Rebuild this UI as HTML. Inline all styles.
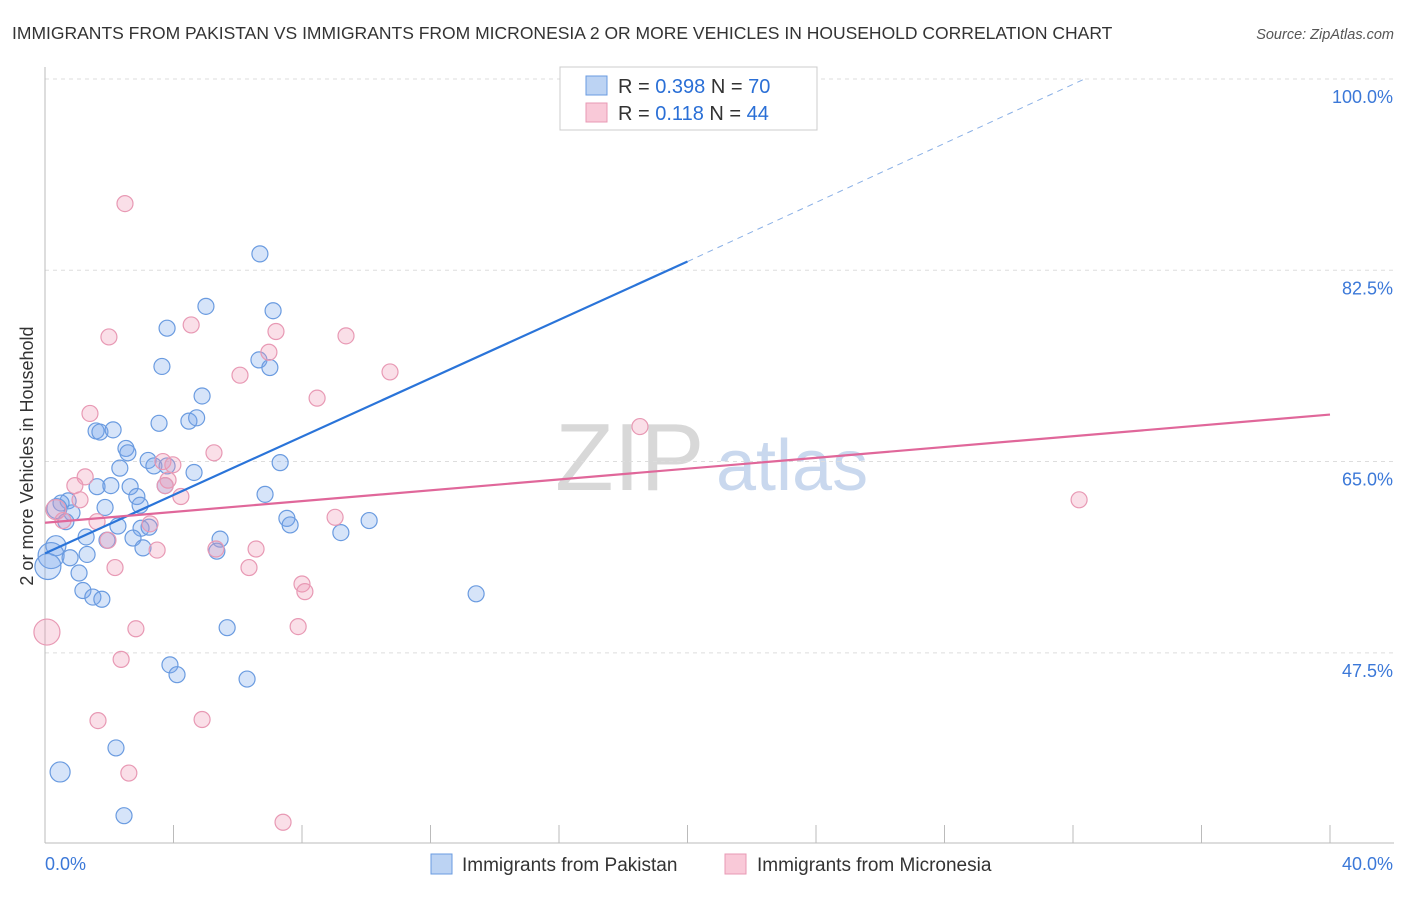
<!DOCTYPE html>
<html><head><meta charset="utf-8"><style>
body{margin:0;background:#fff;font-family:"Liberation Sans",sans-serif;}
svg text{font-family:"Liberation Sans",sans-serif;}
</style></head><body>
<svg id="chart" width="1406" height="892" xmlns="http://www.w3.org/2000/svg">
<text x="12" y="39" font-size="17.5" fill="#333">IMMIGRANTS FROM PAKISTAN VS IMMIGRANTS FROM MICRONESIA 2 OR MORE VEHICLES IN HOUSEHOLD CORRELATION CHART</text>
<text x="1394" y="39" font-size="14.5" fill="#555" font-style="italic" text-anchor="end">Source: ZipAtlas.com</text>
<g>
<text x="555" y="490" font-size="96" font-family="Liberation Serif,serif" fill="#d8d8d8">ZIP</text>
<text x="716" y="490" font-size="72" fill="#c9d8ee">atlas</text>
</g>
<g id="grid"></g>
<g id="axes"></g>
<g id="marks"></g>
<g id="lines"></g>
<text transform="translate(33,456) rotate(-90)" font-size="18" fill="#333" text-anchor="middle">2 or more Vehicles in Household</text>
<g>
<rect x="560" y="67" width="257" height="63" fill="#fff" stroke="#ccc"/>
<rect x="586" y="76" width="21" height="19" fill="#bcd3f3" stroke="#6a9be0"/>
<rect x="586" y="103" width="21" height="19" fill="#f9c9d8" stroke="#e899b4"/>
<text x="618" y="93" font-size="20" fill="#333">R = <tspan fill="#2a6fd6">0.398</tspan>   N = <tspan fill="#2a6fd6">70</tspan></text>
<text x="618" y="120" font-size="20" fill="#333">R =  <tspan fill="#2a6fd6"> 0.118</tspan>   N = <tspan fill="#2a6fd6">44</tspan></text>
</g>
<g>
<rect x="431" y="854" width="21" height="20" fill="#bcd3f3" stroke="#6a9be0"/>
<text x="462" y="871" font-size="19" fill="#333">Immigrants from Pakistan</text>
<rect x="725" y="854" width="21" height="20" fill="#f9c9d8" stroke="#e899b4"/>
<text x="757" y="871" font-size="19" fill="#333">Immigrants from Micronesia</text>
</g>
</svg>
<script>
const xTicks=[0,4,8,12,16,20,24,28,32,36,40];
const yTicks=[100,82.5,65,47.5];
const yTickLabels=["100.0%","82.5%","65.0%","47.5%"];
const xEndLabels=["0.0%","40.0%"];
const pakX=[16.37,6.69,5.01,3.80,7.10,3.64,6.66,7.00,4.89,3.55,4.48,4.72,1.59,1.71,2.12,2.52,2.58,3.21,3.39,3.80,2.33,4.64,7.32,1.62,2.05,2.65,3.74,6.85,2.86,0.72,0.50,1.87,2.96,0.37,0.84,0.65,7.53,7.63,10.09,2.27,2.99,3.24,1.28,2.74,1.93,5.45,9.21,0.34,3.05,5.35,1.31,0.19,0.78,0.09,1.06,1.18,1.49,1.77,13.42,5.67,3.89,4.11,6.29,2.21,0.47,2.46];
const pakY=[100,84.0,79.2,77.2,78.8,73.7,74.3,73.6,71.0,68.5,68.7,69.0,67.8,67.7,67.9,66.2,65.8,65.1,64.6,64.6,64.4,64.0,64.9,62.7,62.8,62.7,62.8,62.0,61.8,61.4,61.2,60.8,61.0,60.7,60.3,59.5,59.8,59.2,59.6,59.1,58.9,59.0,58.1,58.0,57.8,57.9,58.5,57.3,57.1,56.8,56.5,56.4,56.2,55.4,54.8,53.2,52.6,52.4,52.9,49.8,46.4,45.5,45.1,38.8,36.6,32.6];
const micX=[2.49,1.99,4.55,7.19,9.37,6.97,6.07,10.74,8.47,1.40,18.52,5.26,3.67,3.98,1.25,3.83,0.93,3.74,4.23,1.09,32.19,0.34,9.03,0.56,1.62,3.27,1.96,3.49,5.32,6.57,2.18,6.35,8.00,8.09,0.06,2.83,7.88,2.37,1.65,4.89,2.61,7.41];
const micY=[88.6,76.4,77.5,76.9,76.5,75.0,72.9,73.2,70.8,69.4,68.2,65.8,65.0,64.7,63.6,63.3,62.8,62.8,61.8,61.5,61.5,60.6,59.9,59.6,59.5,59.3,57.8,56.9,57.0,57.0,55.3,55.3,53.8,53.1,49.4,49.7,49.9,46.9,41.3,41.4,36.5,32.0];
const pakLine=[[0,56.6],[20,83.3]];
const pakDash=[[20,83.3],[32.36,100]];
const micLine=[[0,59.4],[40,69.3]];
const NS="http://www.w3.org/2000/svg";
const xs=v=>45+v/40*1285;
const ys=v=>79+(100-v)*10.93;
function mk(tag,attrs,parent){const e=document.createElementNS(NS,tag);for(const k in attrs)e.setAttribute(k,attrs[k]);document.getElementById(parent).appendChild(e);return e;}
yTicks.forEach((t,i)=>{
 const g=mk('line',{x1:45,x2:1394,y1:ys(t),y2:ys(t),stroke:'#ddd','stroke-dasharray':'4,4'},'grid');
 
 
 const l=mk('text',{x:1393,y:ys(t)+24,'font-size':18,fill:'#3b78d8','text-anchor':'end'},'axes');
 l.textContent=yTickLabels[i];
 
 
});
const ax=mk('line',{x1:45,x2:45,y1:67,y2:843,stroke:'#bbb'},'axes');


const bx=mk('line',{x1:45,x2:1394,y1:843,y2:843,stroke:'#bbb'},'axes');


xTicks.forEach(t=>{
 const tk=mk('line',{x1:xs(t),x2:xs(t),y1:825,y2:843,stroke:'#bbb'},'axes');
 
 
});
const xl0=mk('text',{x:45,y:870,'font-size':18,fill:'#3b78d8'},'axes');xl0.textContent=xEndLabels[0];


const xl1=mk('text',{x:1393,y:870,'font-size':18,fill:'#3b78d8','text-anchor':'end'},'axes');xl1.textContent=xEndLabels[1];


function dots(X,Y,fill,stroke,name){
 X.forEach((x,i)=>{
  const r=(x<0.2)?13:(x<0.5?10:8);
  const c=mk('circle',{cx:xs(x),cy:ys(Y[i]),r:r,fill:fill,stroke:stroke,'stroke-width':1.2},'marks');
  
  
 });
}
dots(pakX,pakY,'rgba(120,165,235,0.3)','#6a9be0','pakistan-point');
dots(micX,micY,'rgba(240,150,180,0.3)','#e899b4','micronesia-point');
function ln(p,col,w,dash,name){
 const l=mk('line',{x1:xs(p[0][0]),y1:ys(p[0][1]),x2:xs(p[1][0]),y2:ys(p[1][1]),stroke:col,'stroke-width':w},'lines');
 if(dash)l.setAttribute('stroke-dasharray',dash);
 
 
}
ln(pakLine,'#2a74d9',2.2,null,'pakistan-trend-line');
ln(pakDash,'#8ab0e6',1,'6,5','pakistan-trend-extension');
ln(micLine,'#e0679a',2.2,null,'micronesia-trend-line');
</script>
</body></html>
